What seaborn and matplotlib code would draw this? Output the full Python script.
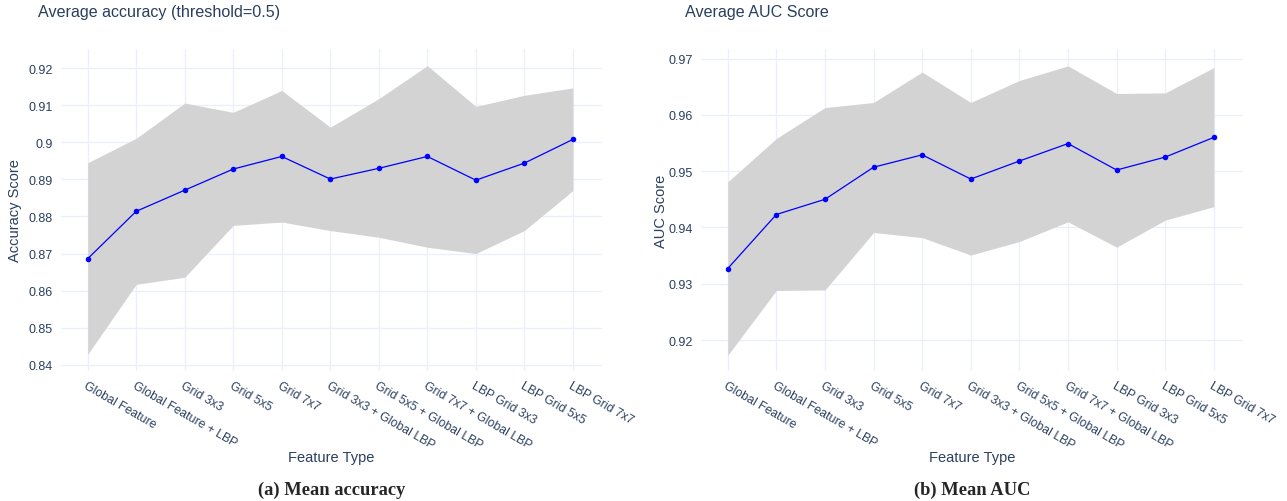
import numpy as np
import pandas as pd
import matplotlib
matplotlib.use('Agg')
import matplotlib.pyplot as plt
import seaborn as sns

# Признаки (ось X)
features = ['Global Feature', 'Global Feature + LBP', 'Grid 3x3', 'Grid 5x5', 'Grid 7x7',
            'Grid 3x3 + Global LBP', 'Grid 5x5 + Global LBP', 'Grid 7x7 + Global LBP',
            'LBP Grid 3x3', 'LBP Grid 5x5', 'LBP Grid 7x7']

# Средняя точность и её разброс
acc_mean = [0.8686, 0.8814, 0.8871, 0.8928, 0.8962, 0.8901, 0.8930, 0.8962, 0.8898, 0.8944, 0.9008]
acc_low = [0.8428, 0.8617, 0.8636, 0.8776, 0.8785, 0.8762, 0.8744, 0.8717, 0.8700, 0.8762, 0.8870]
acc_high = [0.8945, 0.9011, 0.9106, 0.9081, 0.9140, 0.9041, 0.9118, 0.9207, 0.9097, 0.9127, 0.9147]

# Средний AUC и его разброс
auc_mean = [0.9327, 0.9423, 0.9450, 0.9507, 0.9529, 0.9486, 0.9518, 0.9549, 0.9502, 0.9525, 0.9560]
auc_low = [0.9173, 0.9288, 0.9289, 0.9391, 0.9382, 0.9351, 0.9375, 0.9410, 0.9365, 0.9413, 0.9437]
auc_high = [0.9481, 0.9558, 0.9613, 0.9622, 0.9676, 0.9622, 0.9661, 0.9687, 0.9638, 0.9639, 0.9684]

acc_ticks = [0.84, 0.85, 0.86, 0.87, 0.88, 0.89, 0.9, 0.91, 0.92]
auc_ticks = [0.92, 0.93, 0.94, 0.95, 0.96, 0.97]

sns.set_style('white')
plt.rcParams['font.family'] = ['Liberation Sans', 'DejaVu Sans']
txt = '#2a3f5f'
grid = '#ebf0f8'

fig = plt.figure(figsize=(12.87, 5.02), dpi=100)
ax1 = fig.add_axes([61 / 1287, 1 - 372 / 502, 541 / 1287, 322 / 502])
ax2 = fig.add_axes([701 / 1287, 1 - 372 / 502, 542 / 1287, 322 / 502])


def draw(ax, mean, low, high, ticks, ylim, ylabel, ylx, title, tx, caption):
    df = pd.DataFrame({'feature': features, 'mean': mean, 'low': low, 'high': high})
    ax.fill_between(df['feature'], df['low'], df['high'], color='lightgrey', linewidth=0, zorder=1)
    sns.lineplot(data=df, x='feature', y='mean', sort=False, ax=ax, color='blue',
                 linewidth=0.9, marker='o', markersize=4, markeredgewidth=0, zorder=3)
    ax.set_xlim(-0.55, 10.6)
    ax.set_ylim(*ylim)
    ax.set_yticks(ticks)
    ax.set_yticklabels([f'{t:g}' for t in ticks], color=txt, fontsize=9)
    ax.set_xticks(range(len(features)))
    ax.set_xticklabels(features, rotation=-30, ha='left', va='top', rotation_mode='anchor',
                       color=txt, fontsize=8.8)
    ax.tick_params(axis='x', pad=6, length=0)
    ax.tick_params(axis='y', pad=6, length=0)
    ax.grid(True, color=grid, linewidth=1)
    ax.set_axisbelow(True)
    for s in ax.spines.values():
        s.set_visible(False)
    ax.set_xlabel('Feature Type', color=txt, fontsize=10.5)
    ax.xaxis.set_label_coords(0.5, -0.245)
    ax.set_ylabel(ylabel, color=txt, fontsize=10.5)
    ax.yaxis.set_label_coords(ylx, 0.5)
    fig.text(tx / 1287, 1 - 13 / 502, title, color=txt, fontsize=11.6, ha='left', va='center')
    pos = ax.get_position()
    fig.text((pos.x0 + pos.x1) / 2, 1 - 490 / 502, caption,
             family='Liberation Serif', fontweight='bold', fontsize=13.3, ha='center', va='center')


draw(ax1, acc_mean, acc_low, acc_high, acc_ticks, (0.8383, 0.9252), 'Accuracy Score', -0.072,
     'Average accuracy (threshold=0.5)', 38, '(a) Mean accuracy')
draw(ax2, auc_mean, auc_low, auc_high, auc_ticks, (0.9145, 0.9717), 'AUC Score', -0.061,
     'Average AUC Score', 685, '(b) Mean AUC')

fig.savefig('out.png', dpi=100)
